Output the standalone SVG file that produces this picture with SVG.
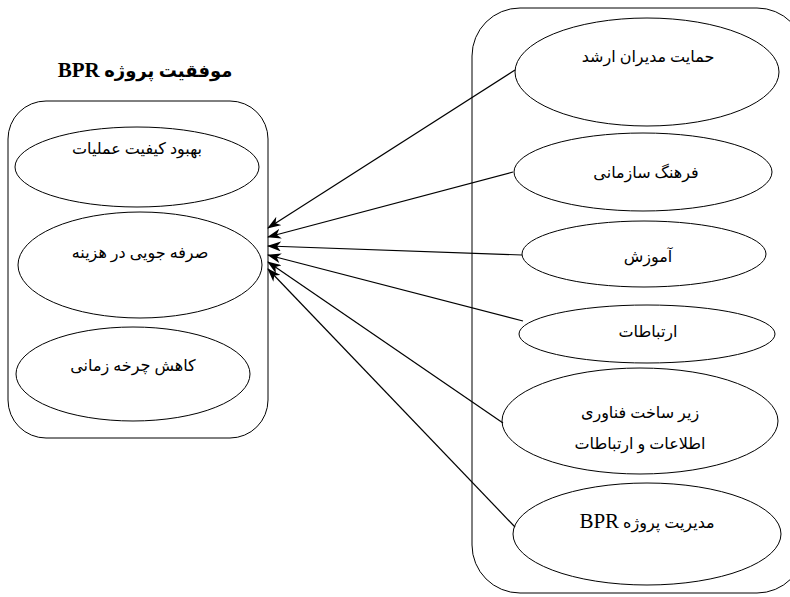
<svg xmlns="http://www.w3.org/2000/svg" width="790" height="597" viewBox="0 0 790 597">
<defs>
<style>
.box{fill:none;stroke:#000;stroke-width:1}
.el{fill:#fff;stroke:#000;stroke-width:1}
.t{font-family:"Liberation Serif","DejaVu Sans",serif;font-size:16px;fill:#000;text-anchor:middle}
.title{font-family:"Liberation Serif","DejaVu Sans",serif;font-size:18px;font-weight:bold;fill:#000;text-anchor:middle}
.lat{font-family:"Liberation Serif",serif;font-size:21px}
.c{stroke:#000;stroke-width:1.2;fill:none;marker-end:url(#ah)}
</style>
<marker id="ah" viewBox="0 0 14 10" refX="13" refY="5" markerWidth="14" markerHeight="10" markerUnits="userSpaceOnUse" orient="auto">
<path d="M0,0 L14,5 L0,10 L4,5 Z" fill="#000"/>
</marker>
</defs>
<rect width="790" height="597" fill="#fff"/>
<text class="title" x="145" y="77" direction="rtl">موفقیت پروژه <tspan class="lat" font-size="22">BPR</tspan></text>
<g id="successBox">
<rect class="box" x="8" y="101" width="260" height="337" rx="38" ry="38"/>
</g>
<g id="n_quality">
<ellipse class="el" cx="137" cy="167" rx="122" ry="40"/>
<text class="t" x="137" y="154" direction="rtl">بهبود کیفیت عملیات</text>
</g>
<g id="n_cost">
<ellipse class="el" cx="140" cy="265" rx="122" ry="53"/>
<text class="t" x="140" y="258" direction="rtl">صرفه جویی در هزینه</text>
</g>
<g id="n_time">
<ellipse class="el" cx="133" cy="374" rx="117" ry="47"/>
<text class="t" x="133" y="371" direction="rtl">کاهش چرخه زمانی</text>
</g>
<g id="factorsBox">
<rect class="box" x="472" y="8" width="333" height="585" rx="48" ry="48"/>
</g>
<g id="n_mgmt">
<ellipse class="el" cx="647" cy="72" rx="132" ry="54"/>
<text class="t" x="648" y="62" direction="rtl">حمایت مدیران ارشد</text>
</g>
<g id="n_culture">
<ellipse class="el" cx="643" cy="172" rx="129" ry="39"/>
<text class="t" x="646" y="178" direction="rtl">فرهنگ سازمانی</text>
</g>
<g id="n_training">
<ellipse class="el" cx="644" cy="254" rx="122" ry="33"/>
<text class="t" x="648" y="262" direction="rtl">آموزش</text>
</g>
<g id="n_comm">
<ellipse class="el" cx="647" cy="334" rx="128" ry="29"/>
<text class="t" x="648" y="337" direction="rtl">ارتباطات</text>
</g>
<g id="n_ict">
<ellipse class="el" cx="640" cy="421" rx="138" ry="53"/>
<text class="t" x="640" y="418" direction="rtl">زیر ساخت فناوری</text>
<text class="t" x="640" y="449" direction="rtl">اطلاعات و ارتباطات</text>
</g>
<g id="n_pm">
<ellipse class="el" cx="647" cy="534" rx="134" ry="51"/>
<text class="t" x="647" y="528" direction="rtl">مدیریت پروژه <tspan class="lat">BPR</tspan></text>
</g>
<g id="connectors">
<line class="c" x1="515" y1="70" x2="268" y2="228"/>
<line class="c" x1="513" y1="172" x2="268" y2="237"/>
<line class="c" x1="522" y1="255" x2="268" y2="246"/>
<line class="c" x1="523" y1="321" x2="268" y2="255"/>
<line class="c" x1="503" y1="423" x2="268" y2="262"/>
<line class="c" x1="515" y1="527" x2="268" y2="269"/>
</g>
</svg>
